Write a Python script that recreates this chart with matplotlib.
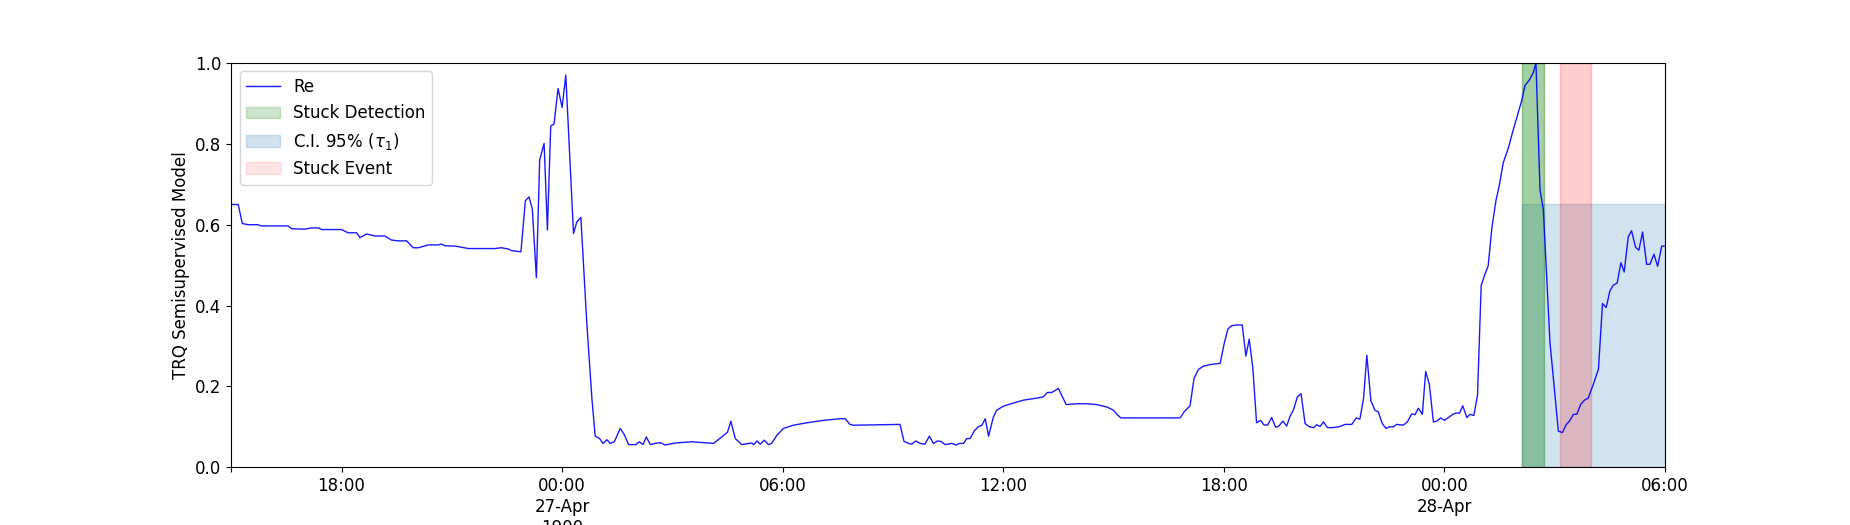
import matplotlib
matplotlib.use("Agg")
import matplotlib.pyplot as plt
import pandas as pd

# hours elapsed since 26-Apr 15:00 and model output
hours = [
	0.00, 0.19, 0.30, 0.46, 0.73, 0.80, 1.55, 1.64, 2.00, 2.18, 2.37, 2.46, 3.00, 3.18,
	3.41, 3.50, 3.68, 3.91, 4.18, 4.36, 4.54, 4.77, 4.95, 5.09, 5.36, 5.63, 5.72, 5.81,
	6.10, 6.45, 7.17, 7.35, 7.53, 7.62, 7.88, 8.00, 8.10, 8.19, 8.30, 8.39, 8.51, 8.60,
	8.69, 8.78, 8.89, 9.00, 9.10, 9.31, 9.40, 9.51, 9.67, 9.81, 9.90, 10.02, 10.11, 10.22,
	10.31, 10.42, 10.58, 10.69, 10.81, 11.01, 11.10, 11.20, 11.29, 11.40, 11.53, 11.67,
	11.80, 12.08, 12.53, 13.12, 13.34, 13.50, 13.59, 13.71, 13.89, 14.16, 14.21, 14.30,
	14.39, 14.50, 14.61, 14.70, 14.84, 15.02, 15.29, 15.66, 16.11, 16.56, 16.70, 16.83,
	16.93, 18.19, 18.30, 18.42, 18.51, 18.62, 18.74, 18.87, 18.99, 19.10, 19.21, 19.30,
	19.42, 19.60, 19.72, 19.81, 19.92, 20.01, 20.10, 20.21, 20.32, 20.42, 20.51, 20.60,
	20.73, 20.82, 21.00, 21.28, 21.55, 21.91, 22.09, 22.20, 22.32, 22.50, 22.71, 23.00,
	23.27, 23.54, 23.82, 24.00, 24.10, 24.20, 25.81, 25.92, 26.08, 26.19, 26.31, 26.44,
	26.63, 26.90, 27.01, 27.11, 27.21, 27.35, 27.50, 27.60, 27.69, 27.79, 27.89, 28.00,
	28.09, 28.19, 28.30, 28.41, 28.50, 28.60, 28.71, 28.80, 28.89, 29.00, 29.10, 29.21,
	29.33, 29.44, 29.53, 29.62, 29.71, 29.82, 29.98, 30.16, 30.30, 30.48, 30.60, 30.70,
	30.80, 30.89, 31.00, 31.11, 31.20, 31.31, 31.41, 31.50, 31.61, 31.70, 31.88, 31.99,
	32.11, 32.20, 32.29, 32.40, 32.49, 32.59, 32.70, 32.79, 32.90, 33.00, 33.11, 33.23,
	33.32, 33.41, 33.50, 33.61, 33.70, 33.80, 33.90, 34.00, 34.10, 34.19, 34.29, 34.40,
	34.49, 34.60, 34.74, 34.87, 35.01, 35.10, 35.19, 35.31, 35.42, 35.49, 35.60, 35.69,
	35.87, 36.10, 36.21, 36.31, 36.40, 36.51, 36.60, 36.71, 36.81, 36.91, 37.05, 37.19,
	37.30, 37.40, 37.50, 37.59, 37.70, 37.80, 37.89, 38.00, 38.09, 38.20, 38.29, 38.39,
	38.50, 38.59, 38.70, 38.80, 38.91, 39.00,
]
re_values = [
	0.650, 0.650, 0.603, 0.600, 0.600, 0.597, 0.597, 0.590, 0.589, 0.592, 0.592, 0.588, 0.588, 0.580,
	0.580, 0.568, 0.577, 0.572, 0.572, 0.562, 0.560, 0.560, 0.543, 0.543, 0.550, 0.550, 0.552, 0.548,
	0.547, 0.541, 0.541, 0.543, 0.540, 0.536, 0.533, 0.659, 0.669, 0.638, 0.469, 0.760, 0.801, 0.587,
	0.844, 0.849, 0.937, 0.890, 0.970, 0.578, 0.607, 0.618, 0.359, 0.170, 0.077, 0.071, 0.059, 0.068,
	0.059, 0.063, 0.096, 0.081, 0.056, 0.056, 0.063, 0.056, 0.075, 0.056, 0.059, 0.061,
	0.055, 0.060, 0.063, 0.059, 0.075, 0.087, 0.114, 0.071, 0.056, 0.060, 0.056, 0.065,
	0.057, 0.067, 0.056, 0.059, 0.079, 0.096, 0.104, 0.110, 0.116, 0.120, 0.120, 0.106,
	0.104, 0.106, 0.064, 0.059, 0.057, 0.065, 0.059, 0.057, 0.077, 0.059, 0.065, 0.064,
	0.056, 0.059, 0.055, 0.059, 0.059, 0.071, 0.071, 0.090, 0.100, 0.104, 0.120, 0.077,
	0.124, 0.141, 0.151, 0.159, 0.166, 0.171, 0.174, 0.185, 0.185, 0.195, 0.155, 0.157,
	0.157, 0.155, 0.149, 0.141, 0.130, 0.122, 0.122, 0.137, 0.152, 0.220, 0.242, 0.250,
	0.254, 0.257, 0.306, 0.342, 0.350, 0.352, 0.352, 0.275, 0.317, 0.244, 0.110, 0.116,
	0.105, 0.104, 0.123, 0.099, 0.102, 0.114, 0.102, 0.126, 0.141, 0.174, 0.182, 0.108,
	0.100, 0.098, 0.105, 0.101, 0.112, 0.098, 0.098, 0.101, 0.106, 0.106, 0.122, 0.119,
	0.170, 0.277, 0.164, 0.141, 0.137, 0.108, 0.096, 0.100, 0.100, 0.106, 0.104, 0.112,
	0.132, 0.130, 0.146, 0.131, 0.237, 0.205, 0.112, 0.114, 0.122, 0.116, 0.123, 0.131,
	0.134, 0.134, 0.152, 0.123, 0.131, 0.128, 0.178, 0.450, 0.477, 0.498, 0.591, 0.659,
	0.696, 0.753, 0.790, 0.834, 0.878, 0.906, 0.944, 0.958, 0.977, 1.000, 0.686, 0.638,
	0.310, 0.089, 0.086, 0.105, 0.114, 0.131, 0.131, 0.156, 0.166, 0.171, 0.205, 0.243,
	0.405, 0.395, 0.436, 0.450, 0.456, 0.506, 0.483, 0.570, 0.585, 0.544, 0.537, 0.582,
	0.502, 0.502, 0.527, 0.497, 0.547, 0.547,
]

start = pd.Timestamp("1900-04-26 15:00")
end = pd.Timestamp("1900-04-28 06:00")
detection = ("1900-04-28 02:06", "1900-04-28 02:42")
stuck_event = ("1900-04-28 03:08", "1900-04-28 04:00")
ci_upper = 0.65

tick_times = ["1900-04-26 15:00", "1900-04-26 18:00", "1900-04-27 00:00", "1900-04-27 06:00",
	"1900-04-27 12:00", "1900-04-27 18:00", "1900-04-28 00:00", "1900-04-28 06:00"]
tick_labels = ["", "18:00", "00:00\n27-Apr\n1900", "06:00", "12:00", "18:00", "00:00\n28-Apr", "06:00"]

plt.rcParams["font.size"] = 12

times = start + pd.to_timedelta(hours, unit="h")

fig, ax = plt.subplots(figsize=(18.5, 5.25), dpi=100)
ax.plot(times, re_values, color="blue", lw=1, alpha=0.9, label="Re")

# detection and event windows were drawn twice in the original, hence darker fill
d0, d1 = pd.Timestamp(detection[0]), pd.Timestamp(detection[1])
e0, e1 = pd.Timestamp(stuck_event[0]), pd.Timestamp(stuck_event[1])
ax.axvspan(d0, d1, color="green", alpha=0.2, label="Stuck Detection")
ax.axvspan(d0, end, ymax=ci_upper, color="tab:blue", alpha=0.2, label="C.I. 95% ($\\tau_1$)")
ax.axvspan(e0, e1, color="red", alpha=0.1, label="Stuck Event")
ax.axvspan(d0, d1, color="green", alpha=0.2)
ax.axvspan(e0, e1, color="red", alpha=0.1)

ax.set_xlim(start, end)
ax.set_ylim(0, 1)
ax.set_xticks(pd.to_datetime(tick_times))
ax.set_xticklabels(tick_labels)
ax.set_ylabel("TRQ Semisupervised Model")
ax.legend(loc="upper left")

fig.savefig("out.png", dpi=100)
